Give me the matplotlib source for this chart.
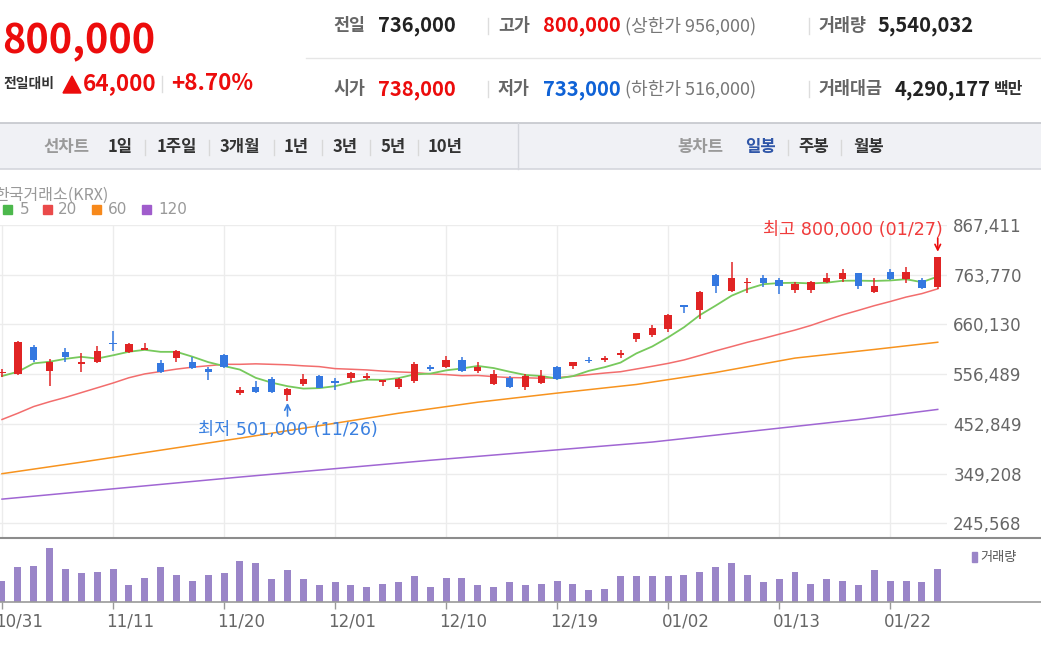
import matplotlib.pyplot as plt
from matplotlib.lines import Line2D
from matplotlib.patches import Rectangle, Polygon
from matplotlib.transforms import blended_transform_factory
import numpy as np
import pandas as pd

plt.rcParams['font.family'] = ['Noto Sans CJK KR', 'DejaVu Sans']

# --- 데이터 (가격: 천원, 거래량: 백만주) ---
date_labels = ['10/31', '11/11', '11/20', '12/01', '12/10', '12/19', '01/02', '01/13', '01/22']
date_pos = [0, 7, 14, 21, 28, 35, 42, 49, 56]

opens = [558, 557, 614, 563, 603, 577, 581, 622, 603, 607,
         580, 590, 582, 567, 597, 518, 530, 546, 513, 535,
         553, 543, 548, 548, 541, 529, 543, 572, 571, 585,
         564, 536, 548, 530, 539, 572, 574, 587, 586, 596,
         629, 638, 651, 700, 690, 763, 730, 746, 756, 753,
         732, 732, 749, 755, 767, 728, 769, 754, 753, 738]
highs = [567, 625, 617, 588, 610, 600, 616, 646, 621, 622,
         587, 607, 593, 572, 598, 530, 543, 550, 528, 556,
         555, 548, 561, 558, 544, 548, 581, 576, 595, 592,
         581, 565, 553, 556, 565, 573, 582, 593, 594, 607,
         643, 660, 681, 700, 730, 765, 791, 756, 763, 756,
         749, 751, 767, 776, 768, 756, 776, 779, 756, 800]
lows = [551, 555, 582, 532, 582, 562, 579, 605, 601, 607,
        558, 582, 567, 544, 569, 513, 517, 517, 501, 532,
        527, 523, 541, 544, 532, 525, 539, 564, 569, 562,
        559, 534, 528, 523, 535, 544, 567, 579, 582, 590,
        623, 633, 645, 683, 671, 726, 728, 726, 738, 724,
        726, 726, 746, 749, 735, 726, 753, 746, 735, 733]
closes = [560, 623, 585, 582, 592, 581, 605, 619, 619, 612,
          560, 605, 569, 562, 571, 523, 519, 519, 525, 546,
          528, 539, 559, 553, 544, 546, 578, 567, 587, 564,
          572, 556, 529, 553, 553, 546, 581, 584, 591, 601,
          642, 653, 679, 696, 728, 741, 756, 748, 747, 740,
          744, 749, 756, 767, 741, 741, 754, 769, 736, 800]
volumes = [3.47, 5.82, 6.10, 9.07, 5.54, 4.81, 5.04, 5.54, 2.80, 4.03,
           5.82, 4.53, 3.53, 4.53, 4.81, 6.83, 6.55, 3.81, 5.32, 3.81,
           2.80, 3.30, 2.80, 2.52, 3.02, 3.30, 4.31, 2.52, 4.03, 4.03,
           2.80, 2.52, 3.30, 2.80, 3.02, 3.53, 3.02, 2.01, 2.24, 4.31,
           4.31, 4.31, 4.31, 4.53, 5.04, 5.82, 6.55, 4.53, 3.30, 3.81,
           5.04, 3.02, 3.81, 3.53, 2.80, 5.32, 3.53, 3.53, 3.30, 5.54]

# 이동평균: 기간 이전 데이터가 없는 앞부분은 그림에서 읽은 값
ma5_head = [552.6, 561.5, 579.0, 582.4]
ma20_head = [462, 475, 489, 499, 508, 518, 528, 538, 549, 557,
             562, 567, 571, 574, 577, 577, 578, 577, 576]
ma60_idx = [0, 5, 10, 15, 20, 25, 30, 35, 40, 45, 50, 55, 59]
ma60_val = [349, 373, 398, 423, 449, 475, 498, 517, 535, 560, 590, 608, 623]
ma120_idx = [0, 15, 27, 41, 54, 59]
ma120_val = [296, 342, 377, 415, 462, 483]

y_ticks = [867411, 763770, 660130, 556489, 452849, 349208, 245568]

RED = '#e02424'
BLUE = '#3478e0'
TXT_RED = '#ec0c0c'
TXT_BLUE = '#0f62d6'

W, H = 1041, 660


def fx(px):
    return px / W


def fy(py):
    return 1 - py / H


fig = plt.figure(figsize=(W / 100, H / 100), dpi=100)


def ftext(x, y, s, **kw):
    fig.text(fx(x), fy(y), s, va='center', **kw)


def fline(x0, x1, y0, y1, **kw):
    fig.add_artist(Line2D([fx(x0), fx(x1)], [fy(y0), fy(y1)],
                          transform=fig.transFigure, **kw))


# --- 1. 상단 시세 정보 ---
ftext(2, 42, '800,000', fontsize=28.5, fontweight='bold', color=TXT_RED)
ftext(3, 84, '전일대비', fontsize=10, fontweight='bold', color='#333333')
fig.add_artist(Polygon([[fx(63), fy(93)], [fx(81), fy(93)], [fx(72), fy(76)]],
                       closed=True, transform=fig.transFigure, color=TXT_RED))
ftext(83, 84, '64,000', fontsize=16.2, fontweight='bold', color=TXT_RED)
fline(162, 162, 76, 92, color='#dddddd', lw=1)
ftext(171, 84, '+8.70%', fontsize=16.2, fontweight='bold', color=TXT_RED)

LBL = dict(fontsize=12.5, fontweight='bold', color='#666666')
VAL = dict(fontsize=14.5, fontweight='bold', color='#222222')
PAR = dict(fontsize=13, color='#777777')

ftext(333, 26, '전일', **LBL)
ftext(378, 26, '736,000', **VAL)
ftext(498, 26, '고가', **LBL)
ftext(543, 26, '800,000', **{**VAL, 'color': TXT_RED})
ftext(625, 26, '(상한가 956,000)', **PAR)
ftext(818, 26, '거래량', **LBL)
ftext(878, 26, '5,540,032', **VAL)

ftext(333, 89, '시가', **LBL)
ftext(378, 89, '738,000', **{**VAL, 'color': TXT_RED})
ftext(498, 89, '저가', **LBL)
ftext(543, 89, '733,000', **{**VAL, 'color': TXT_BLUE})
ftext(625, 89, '(하한가 516,000)', **PAR)
ftext(818, 89, '거래대금', **LBL)
ftext(895, 89, '4,290,177', **VAL)
ftext(994, 89, '백만', fontsize=11.5, fontweight='bold', color='#333333')

for sx in [488, 809]:
    fline(sx, sx, 18, 34, color='#dddddd', lw=1)
    fline(sx, sx, 81, 97, color='#dddddd', lw=1)
fline(306, W, 58, 58, color='#e6e6e6', lw=1)

# --- 2. 탭 바 ---
fig.add_artist(Rectangle((0, fy(169)), 1, (169 - 123) / H, transform=fig.transFigure,
                         facecolor='#f0f1f5', edgecolor='none'))
fline(0, W, 123, 123, color='#c4c6cc', lw=1.2)
fline(0, W, 169, 169, color='#d4d6dc', lw=1.2)
fline(518, 518, 123, 169, color='#d4d6dc', lw=1)

TAB = dict(fontsize=12, fontweight='bold', color='#333333')
ftext(43, 147, '선차트', fontsize=12, fontweight='bold', color='#9a9a9a')
for label, tx in [('1일', 108), ('1주일', 157), ('3개월', 220), ('1년', 284),
                  ('3년', 333), ('5년', 381), ('10년', 428)]:
    ftext(tx, 147, label, **TAB)
ftext(677, 147, '봉차트', fontsize=12, fontweight='bold', color='#9a9a9a')
ftext(745, 147, '일봉', fontsize=12, fontweight='bold', color='#2f56a8')
ftext(798, 147, '주봉', **TAB)
ftext(853, 147, '월봉', **TAB)
for sx in [145, 209, 274, 322, 370, 418, 788, 841]:
    fline(sx, sx, 140, 155, color='#d8d8d8', lw=1)

# --- 3. 범례 ---
ftext(-6, 195, '한국거래소(KRX)', fontsize=11.5, color='#999999')
for sq_x, txt_x, col, lab in [(3, 20, '#4cb84c', '5'), (43, 58, '#ea4a4a', '20'),
                              (92, 108, '#f7891b', '60'), (142, 158, '#a05ccc', '120')]:
    fig.add_artist(Rectangle((fx(sq_x), fy(214.5)), 9 / W, 9 / H,
                             transform=fig.transFigure, color=col))
    ftext(txt_x, 210, lab, fontsize=11, color='#999999', family='DejaVu Sans')

# --- 4. 가격 차트 ---
o = np.array(opens) * 1000
h = np.array(highs) * 1000
l = np.array(lows) * 1000
c = np.array(closes) * 1000
idx = np.arange(len(c))

ma5 = pd.Series(c).rolling(5).mean().values
ma5[:len(ma5_head)] = np.array(ma5_head) * 1000
ma20 = pd.Series(c).rolling(20).mean().values
ma20[:len(ma20_head)] = np.array(ma20_head) * 1000

step = 15.86  # 봉 간격(px)
x_left, x_right = -2 / step, 945 / step
y_top = 867411
y_bottom = y_top - 313 * (103641 / 49.72)

ax = fig.add_axes([0, fy(538), 947 / W, 313 / H])
ax.set_xlim(x_left, x_right)
ax.set_ylim(y_bottom, y_top)
for s in ax.spines.values():
    s.set_visible(False)
ax.set_xticks(date_pos)
ax.set_yticks(y_ticks)
ax.set_yticklabels([f'{v:,}' for v in y_ticks])
ax.yaxis.set_ticks_position('right')
ax.tick_params(axis='x', length=0, labelbottom=False)
ax.tick_params(axis='y', length=0, pad=4.5, labelsize=12, labelcolor='#666666')
for t in ax.get_yticklabels():
    t.set_fontfamily('DejaVu Sans')
ax.grid(True, color='#ececec', lw=1)
ax.set_axisbelow(True)

ax.plot(ma120_idx, np.array(ma120_val) * 1000, color='#a066d3', lw=1.1, zorder=2)
ax.plot(ma60_idx, np.array(ma60_val) * 1000, color='#f7931e', lw=1.1, zorder=2)
ax.plot(idx, ma20, color='#f26d6d', lw=1.1, zorder=2)
ax.plot(idx, ma5, color='#77c95c', lw=1.3, zorder=2)

colors = np.where(c >= o, RED, BLUE)
ax.vlines(idx, l, h, colors=colors, lw=1.1, zorder=3)
body_h = np.maximum(np.abs(c - o), 3000)
ax.bar(idx, body_h, bottom=np.minimum(o, c), width=0.46, color=colors, zorder=4)

# 최고/최저 표시
hi_i = int(np.argmax(h))
lo_i = int(np.argmin(l))
ax.annotate('', xy=(hi_i, h[hi_i]), xytext=(0, 14), textcoords='offset points',
            arrowprops=dict(arrowstyle='->', color=TXT_RED, lw=1.2,
                            shrinkA=0, shrinkB=4), annotation_clip=False)
ax.annotate('최고 800,000 (01/27)', xy=(hi_i, h[hi_i]), xytext=(3.5, 19.5),
            textcoords='offset points', ha='right', va='center', fontsize=12.6,
            color='#f03c3c', family=['DejaVu Sans', 'Noto Sans CJK KR'],
            annotation_clip=False)
ax.annotate('', xy=(lo_i, l[lo_i]), xytext=(0, -11), textcoords='offset points',
            arrowprops=dict(arrowstyle='->', color='#3a80e0', lw=1.2,
                            shrinkA=0, shrinkB=1.5), annotation_clip=False)
ax.annotate('최저 501,000 (11/26)', xy=(lo_i, l[lo_i]), xytext=(0, -21),
            textcoords='offset points', ha='center', va='center', fontsize=12.6,
            color='#3a80e0', family=['DejaVu Sans', 'Noto Sans CJK KR'],
            annotation_clip=False)

# --- 5. 거래량 ---
axv = fig.add_axes([0, fy(602), 947 / W, 64 / H])
axv.set_xlim(x_left, x_right)
axv.set_ylim(0, 10.74)
for s in axv.spines.values():
    s.set_visible(False)
axv.bar(idx, volumes, width=0.44, color='#9a85c8')
axv.set_yticks([])
axv.set_xticks(date_pos)
axv.tick_params(axis='x', length=5, width=1, color='#999999', labelbottom=False)
# 날짜 라벨은 눈금 바로 왼쪽에서 시작
trans = blended_transform_factory(axv.transData, axv.transAxes)
for pos, lab in zip(date_pos, date_labels):
    axv.text(pos - 6.5 / step, (602 - 622) / 64, lab, transform=trans, ha='left',
             va='center', fontsize=12, color='#666666', family='DejaVu Sans',
             clip_on=False)

fline(0, W, 538, 538, color='#8c8c8c', lw=1.5)
fline(0, W, 602, 602, color='#9a9a9a', lw=1.2)
fig.add_artist(Rectangle((fx(972), fy(562)), 5 / W, 10 / H,
                         transform=fig.transFigure, color='#9a85c8'))
ftext(980, 557, '거래량', fontsize=9.5, color='#555555')

fig.savefig('out.png', dpi=100)
